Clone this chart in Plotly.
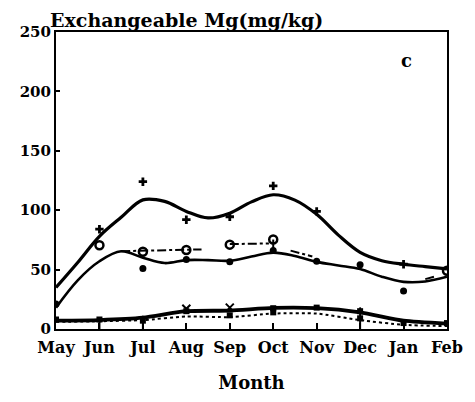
import plotly.graph_objects as go

months = ["May", "Jun", "Jul", "Aug", "Sep", "Oct", "Nov", "Dec", "Jan", "Feb"]
month_idx = list(range(len(months)))

# fitted smooth curves sampled every half month
curve_x = [0, 0.5, 1, 1.5, 2, 2.5, 3, 3.5, 4, 4.5, 5, 5.5, 6, 6.5, 7, 7.5, 8, 8.5, 9]
top_curve = [35, 56, 78, 94, 108.7, 107.4, 99, 93.5, 97.5, 107, 113, 108.5, 96.5, 79, 64.5, 57.5, 54.5, 52.5, 50.6]
mid_curve = [18, 41, 57, 65.4, 60, 55.5, 58, 58, 57.5, 61, 64.3, 61.5, 56.5, 53.5, 50.5, 44, 39.7, 40, 44]

# low series (monthly)
low_solid = [7, 7.5, 9.5, 15, 15.5, 17.7, 17.5, 14, 7, 4.5]
low_dotted = [6, 6.5, 7.5, 10.5, 10, 13, 13, 7.5, 3.5, 2.5]

# dash-dot series segments (gaps where the line is not drawn)
dash_x = [1.5, 2, 3, 3.35, None, 4, 4.9, None, 5.4, 5.9, None, 8.5, 8.7]
dash_y = [65.5, 66, 66.5, 67, None, 71.5, 72, None, 66, 61, None, 42, 44]

# observed points
plus_x = [1, 2, 3, 4, 5, 6, 8]
plus_y = [84, 124, 92, 94.5, 120.5, 99, 54.5]
dot_x = [0, 2, 3, 4, 5, 6, 7, 8]
dot_y = [21, 51, 58.5, 56.6, 66, 57, 54, 32]
circ_x = [1, 2, 3, 4, 5, 9]
circ_y = [70.5, 65, 66.5, 71, 75.3, 49]
circ_err = [0, 0, 0, 0, 11, 0]
xmark_x = [3, 4]
xmark_y = [17, 18]
sq_x = [0, 1, 2, 3, 4, 5, 5, 6, 7, 7, 8, 9]
sq_y = [8, 8, 7, 15, 11.5, 17.5, 14, 18, 15, 9, 5, 5]
bar_x = [1, 2, 7]
bar_y = [8, 11, 18]

FONT = "DejaVu Serif"
fig = go.Figure()

fig.add_trace(go.Scatter(x=curve_x, y=top_curve, mode="lines",
                         line=dict(color="black", width=3.2, shape="spline", smoothing=1)))
fig.add_trace(go.Scatter(x=curve_x, y=mid_curve, mode="lines",
                         line=dict(color="black", width=2.6, shape="spline", smoothing=1)))
fig.add_trace(go.Scatter(x=dash_x, y=dash_y, mode="lines", connectgaps=False,
                         line=dict(color="black", width=2, dash="dashdot")))
fig.add_trace(go.Scatter(x=month_idx, y=low_dotted, mode="lines",
                         line=dict(color="black", width=2, dash="dot", shape="spline", smoothing=0.6)))
fig.add_trace(go.Scatter(x=month_idx, y=low_solid, mode="lines",
                         line=dict(color="black", width=3.8, shape="spline", smoothing=0.6)))

fig.add_trace(go.Scatter(x=plus_x, y=plus_y, mode="markers",
                         marker=dict(symbol="cross", size=7, color="black")))
fig.add_trace(go.Scatter(x=dot_x, y=dot_y, mode="markers",
                         marker=dict(symbol="circle", size=7, color="black")))
fig.add_trace(go.Scatter(x=circ_x, y=circ_y, mode="markers",
                         marker=dict(symbol="circle-open", size=8, color="black", line=dict(width=2.5)),
                         error_y=dict(type="data", symmetric=False, array=[0]*len(circ_x),
                                      arrayminus=circ_err, color="black", thickness=2, width=0)))
fig.add_trace(go.Scatter(x=xmark_x, y=xmark_y, mode="markers",
                         marker=dict(symbol="x-thin", size=8, color="black", line=dict(width=2, color="black"))))
fig.add_trace(go.Scatter(x=sq_x, y=sq_y, mode="markers",
                         marker=dict(symbol="square", size=6, color="black")))
fig.add_trace(go.Scatter(x=bar_x, y=bar_y, mode="markers",
                         marker=dict(size=1, color="black"),
                         error_y=dict(type="data", symmetric=False, array=[0]*len(bar_x),
                                      arrayminus=bar_y, color="black", thickness=2, width=0)))

fig.add_annotation(x=8.07, y=226, text="c", showarrow=False,
                   font=dict(family=FONT, size=18, color="black", weight="bold"))

# page has an 8px body margin; figure is sized so the visible page is 475x402
W, H = 467, 394
fig.update_layout(
    width=W, height=H,
    margin=dict(l=41, r=20, t=24, b=66),
    paper_bgcolor="white", plot_bgcolor="white",
    showlegend=False,
    title=dict(text="Exchangeable Mg(mg/kg)", x=42/W, xanchor="left", xref="container",
               y=1 - 12/H, yanchor="middle", yref="container", pad=dict(l=0, r=0, t=0, b=0),
               font=dict(family=FONT, size=19, color="black", weight="bold")),
    font=dict(family=FONT, color="black"),
)
fig.update_xaxes(range=[0, 9], tickmode="array", tickvals=month_idx, ticktext=months,
                 ticks="inside", ticklen=6, tickwidth=2, tickcolor="black",
                 showline=True, linewidth=2, linecolor="black", mirror=True,
                 showgrid=False, zeroline=False, ticklabeloverflow="allow", ticklabelstandoff=3,
                 tickfont=dict(family=FONT, size=16, color="black", weight="bold"),
                 title=dict(text="Month", font=dict(family=FONT, size=18, color="black", weight="bold"),
                            standoff=20))
fig.update_yaxes(range=[0, 250], tickvals=[0, 50, 100, 150, 200, 250],
                 ticks="inside", ticklen=4, tickwidth=2, tickcolor="black",
                 showline=True, linewidth=2, linecolor="black", mirror=True,
                 showgrid=False, zeroline=False,
                 tickfont=dict(family=FONT, size=15, color="black", weight="bold"))

fig.write_html("out.html", config={"displayModeBar": False})
